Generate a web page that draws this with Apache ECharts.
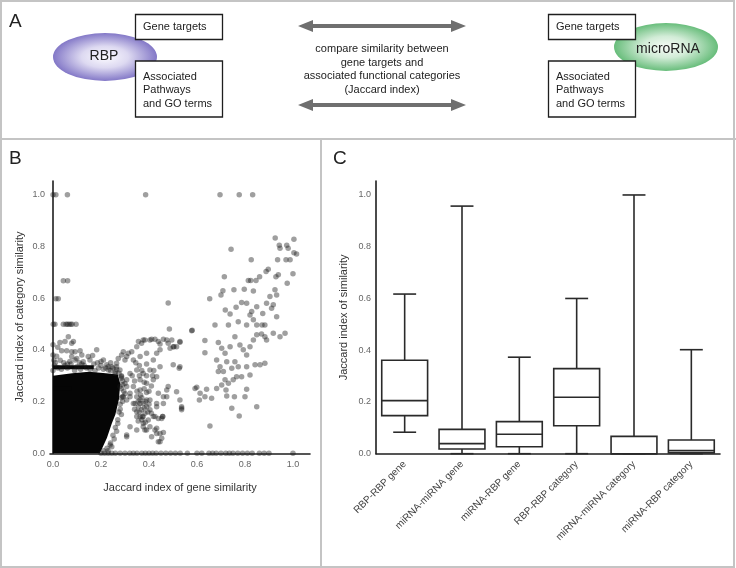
<!DOCTYPE html>
<html>
<head>
<meta charset="utf-8">
<script src="https://cdn.jsdelivr.net/npm/echarts@6/dist/echarts.min.js"></script>
<style>
  html, body { margin: 0; padding: 0; background: #fff; }
  #chart { width: 736px; height: 568px; }
</style>
</head>
<body>
<div id="chart"></div>
<script>
  // ---- panel B: [gene similarity, category similarity] ----
  var topRow = [[0.0, 1], [0.012, 1], [0.06, 1], [0.386, 1], [0.696, 1], [0.776, 1], [0.832, 1]];

  var nearAxisPoints = [
    [0.043, 0.667], [0.061, 0.667], [0.012, 0.598], [0.022, 0.598],
    [0.001, 0.499], [0.008, 0.499], [0.043, 0.499], [0.054, 0.499], [0.06, 0.499],
    [0.067, 0.499], [0.074, 0.499], [0.08, 0.499], [0.096, 0.499],
    [0.064, 0.451], [0.05, 0.432], [0.078, 0.426], [0.029, 0.428], [0.085, 0.432],
    [0.036, 0.397], [0.057, 0.397], [0.078, 0.393], [0.092, 0.393], [0.113, 0.397],
    [0.078, 0.374], [0.099, 0.367], [0.12, 0.38], [0.092, 0.361], [0.126, 0.354],
    [0.147, 0.374], [0.165, 0.378], [0.182, 0.4], [0.154, 0.361],
    [0.0, 0.42], [0.0, 0.38], [0.004, 0.36], [0.02, 0.41], [0.045, 0.35], [0.06, 0.345],
    [0.03, 0.36], [0.015, 0.375], [0.11, 0.35], [0.07, 0.355]
  ];

  // fuzzy rim of the dense blob
  var blobRim = [
    [0.02, 0.33], [0.05, 0.34], [0.1, 0.335], [0.13, 0.34], [0.19, 0.33], [0.21, 0.325],
    [0.24, 0.32], [0.26, 0.315], [0.285, 0.3], [0.29, 0.28], [0.285, 0.25], [0.29, 0.22],
    [0.28, 0.19], [0.275, 0.16], [0.27, 0.13], [0.26, 0.1], [0.25, 0.07], [0.24, 0.04],
    [0.225, 0.02], [0.21, 0.01], [0.0, 0.32], [0.006, 0.34], [0.17, 0.345], [0.23, 0.335],
    [0.01, 0.35], [0.035, 0.325], [0.06, 0.33], [0.075, 0.345], [0.09, 0.32], [0.115, 0.325],
    [0.14, 0.33], [0.155, 0.325], [0.175, 0.32], [0.2, 0.34], [0.22, 0.33], [0.25, 0.33],
    [0.265, 0.325], [0.275, 0.31], [0.2, 0.355], [0.185, 0.35], [0.12, 0.345], [0.24, 0.35],
    [0.285, 0.29], [0.29, 0.265], [0.295, 0.24], [0.285, 0.215], [0.29, 0.2], [0.28, 0.17],
    [0.285, 0.15], [0.27, 0.115], [0.265, 0.085], [0.255, 0.055], [0.245, 0.025], [0.23, 0.01],
    [0.3, 0.27], [0.3, 0.23]
  ];

  var middlePoints = [
    [0.21, 0.361], [0.224, 0.342], [0.231, 0.322], [0.245, 0.335], [0.265, 0.348], [0.272, 0.367],
    [0.286, 0.38], [0.3, 0.361], [0.258, 0.309], [0.279, 0.322], [0.314, 0.387], [0.328, 0.393],
    [0.349, 0.412], [0.356, 0.432], [0.369, 0.426], [0.383, 0.438], [0.404, 0.438], [0.425, 0.441],
    [0.439, 0.432], [0.46, 0.441], [0.48, 0.426], [0.495, 0.438], [0.515, 0.412],
    [0.376, 0.438], [0.411, 0.441], [0.446, 0.423], [0.474, 0.438], [0.504, 0.412], [0.529, 0.432],
    [0.488, 0.406], [0.501, 0.342], [0.529, 0.335],
    [0.432, 0.387], [0.446, 0.4], [0.418, 0.361], [0.39, 0.387], [0.363, 0.374], [0.335, 0.361],
    [0.307, 0.374], [0.293, 0.393], [0.265, 0.335],
    [0.321, 0.309], [0.349, 0.322], [0.376, 0.309], [0.404, 0.322], [0.432, 0.296], [0.446, 0.335],
    [0.418, 0.284], [0.39, 0.271], [0.363, 0.284], [0.335, 0.258], [0.307, 0.284], [0.286, 0.296],
    [0.279, 0.258],
    [0.349, 0.219], [0.363, 0.206], [0.376, 0.193], [0.356, 0.18], [0.369, 0.168], [0.383, 0.155],
    [0.363, 0.142], [0.349, 0.161], [0.39, 0.18], [0.404, 0.206], [0.335, 0.193], [0.321, 0.232],
    [0.307, 0.206], [0.293, 0.219], [0.397, 0.129], [0.376, 0.116], [0.418, 0.142], [0.432, 0.18],
    [0.439, 0.232], [0.46, 0.193], [0.474, 0.219], [0.48, 0.258],
    [0.307, 0.071], [0.411, 0.064], [0.432, 0.077], [0.46, 0.08], [0.349, 0.09], [0.39, 0.09],
    [0.376, 0.103],
    [0.307, 0.258], [0.321, 0.219], [0.342, 0.193], [0.363, 0.245], [0.39, 0.206], [0.404, 0.168],
    [0.425, 0.142], [0.376, 0.142], [0.404, 0.103], [0.425, 0.09], [0.446, 0.077], [0.453, 0.058],
    [0.439, 0.045], [0.383, 0.09], [0.321, 0.103], [0.307, 0.064], [0.349, 0.142], [0.363, 0.193],
    [0.432, 0.193], [0.46, 0.219], [0.474, 0.245], [0.453, 0.135], [0.238, 0.032],
    [0.48, 0.581], [0.653, 0.598], [0.578, 0.474], [0.485, 0.481], [0.592, 0.251], [0.613, 0.232],
    [0.633, 0.219], [0.536, 0.174],
    [0.526, 0.329], [0.529, 0.429], [0.501, 0.412], [0.536, 0.18], [0.529, 0.206], [0.515, 0.238],
    [0.457, 0.142], [0.439, 0.135], [0.432, 0.097], [0.446, 0.045],
    [0.355, 0.2], [0.37, 0.215], [0.38, 0.175], [0.36, 0.16], [0.372, 0.14], [0.385, 0.2],
    [0.395, 0.16], [0.34, 0.17], [0.35, 0.24], [0.365, 0.225], [0.38, 0.25], [0.39, 0.235],
    [0.4, 0.19], [0.41, 0.155], [0.37, 0.13], [0.385, 0.12], [0.355, 0.125], [0.4, 0.24],
    [0.41, 0.26], [0.38, 0.275], [0.36, 0.3], [0.39, 0.3], [0.415, 0.3], [0.34, 0.28],
    [0.33, 0.3], [0.37, 0.32], [0.36, 0.34], [0.39, 0.345], [0.42, 0.32], [0.345, 0.35]
  ];

  var rightPoints = [
    [0.926, 0.833], [1.004, 0.828], [0.943, 0.805], [0.974, 0.805], [0.98, 0.793], [0.946, 0.793],
    [1.015, 0.771], [1.004, 0.776], [0.971, 0.748], [0.988, 0.748], [0.742, 0.789], [0.826, 0.748],
    [0.936, 0.748], [1.0, 0.694], [0.976, 0.658], [0.929, 0.683], [0.939, 0.69], [0.897, 0.712],
    [0.888, 0.703], [0.714, 0.683], [0.814, 0.668], [0.824, 0.668], [0.846, 0.668], [0.861, 0.683],
    [0.708, 0.629], [0.7, 0.612], [0.754, 0.632], [0.797, 0.634], [0.835, 0.628], [0.925, 0.632],
    [0.932, 0.612], [0.904, 0.606],
    [0.718, 0.554], [0.738, 0.539], [0.763, 0.565], [0.786, 0.583], [0.807, 0.58], [0.828, 0.548],
    [0.849, 0.567], [0.874, 0.541], [0.89, 0.58], [0.911, 0.561], [0.918, 0.574], [0.932, 0.528],
    [0.675, 0.496], [0.731, 0.496], [0.772, 0.509], [0.807, 0.496], [0.821, 0.535], [0.835, 0.516],
    [0.849, 0.496], [0.871, 0.496], [0.883, 0.496], [0.89, 0.438], [0.918, 0.464], [0.946, 0.451],
    [0.967, 0.464], [0.58, 0.476],
    [0.633, 0.436], [0.633, 0.389], [0.689, 0.428], [0.703, 0.406], [0.717, 0.387], [0.738, 0.412],
    [0.758, 0.451], [0.779, 0.419], [0.793, 0.4], [0.807, 0.38], [0.821, 0.412], [0.835, 0.438],
    [0.849, 0.458], [0.869, 0.461], [0.883, 0.451],
    [0.682, 0.361], [0.696, 0.335], [0.71, 0.316], [0.724, 0.354], [0.745, 0.329], [0.758, 0.354],
    [0.772, 0.335], [0.786, 0.296], [0.807, 0.335], [0.821, 0.303], [0.842, 0.342], [0.863, 0.342],
    [0.883, 0.348],
    [0.717, 0.284], [0.731, 0.271], [0.751, 0.284], [0.689, 0.316], [0.765, 0.296], [0.703, 0.264],
    [0.721, 0.245],
    [0.682, 0.251], [0.661, 0.213], [0.64, 0.248], [0.599, 0.255], [0.61, 0.206], [0.724, 0.222],
    [0.756, 0.219], [0.8, 0.219], [0.807, 0.248], [0.849, 0.18], [0.745, 0.174], [0.776, 0.144],
    [0.654, 0.106], [0.536, 0.168], [0.457, 0.142]
  ];

  var zeroRow = [
    [0.2, 0], [0.215, 0], [0.23, 0], [0.245, 0], [0.26, 0], [0.28, 0], [0.3, 0], [0.32, 0],
    [0.335, 0], [0.35, 0], [0.37, 0], [0.385, 0], [0.4, 0], [0.415, 0], [0.43, 0], [0.45, 0],
    [0.47, 0], [0.49, 0], [0.51, 0], [0.53, 0], [0.56, 0], [0.6, 0], [0.62, 0], [0.65, 0],
    [0.665, 0], [0.68, 0], [0.7, 0], [0.72, 0], [0.735, 0], [0.75, 0], [0.77, 0], [0.79, 0],
    [0.81, 0], [0.83, 0], [0.86, 0], [0.88, 0], [0.9, 0], [1.0, 0]
  ];

  // outline of the saturated black region near the origin
  var blobOutline = [
    [0, 0], [0, 0.3], [0.08, 0.31], [0.15, 0.315], [0.22, 0.31], [0.27, 0.305], [0.28, 0.27],
    [0.275, 0.21], [0.26, 0.15], [0.245, 0.115], [0.225, 0.06], [0.205, 0.02], [0.195, 0]
  ];
  // stacked points forming two horizontal bars
  var barAt033 = [[0, 0.333], [0.17, 0.333]];
  var barAt025 = [[0, 0.25], [0.078, 0.25]];

  var tickValues = [0, 0.2, 0.4, 0.6, 0.8, 1.0];

  // ---- panel C: box plot summary ----
  var boxLabels = ['RBP-RBP gene', 'miRNA-miRNA gene', 'miRNA-RBP gene',
    'RBP-RBP category', 'miRNA-miRNA category', 'miRNA-RBP category'];
  var whiskerLow = [0.083, 0, 0, 0, 0, 0];
  var quartile1 = [0.147, 0.018, 0.027, 0.108, 0, 0.003];
  var medians = [0.205, 0.039, 0.075, 0.218, 0, 0.012];
  var quartile3 = [0.361, 0.094, 0.124, 0.329, 0.067, 0.053];
  var whiskerHigh = [0.617, 0.957, 0.373, 0.600, 1.0, 0.402];

  var boxData = boxLabels.map(function(c, i) {
    return [i, whiskerLow[i], quartile1[i], medians[i], quartile3[i], whiskerHigh[i]];
  });

  var font = 'Liberation Sans, Arial, sans-serif';
  var frame = '#c4c4c4';
  var ink = '#2a2a2a';
  var dotColor = 'rgba(25,25,25,0.52)';

  function renderBox(params, api) {
    var i = api.value(0);
    var half = api.size([1, 0])[0] * 0.4;
    var cap = half / 2;
    var low = api.coord([i, api.value(1)]);
    var q1 = api.coord([i, api.value(2)]);
    var med = api.coord([i, api.value(3)]);
    var q3 = api.coord([i, api.value(4)]);
    var high = api.coord([i, api.value(5)]);
    var cx = q1[0];
    var st = { stroke: ink, lineWidth: 1.6, fill: null };
    return {
      type: 'group',
      children: [
        { type: 'line', shape: { x1: cx, y1: high[1], x2: cx, y2: q3[1] }, style: st },
        { type: 'line', shape: { x1: cx - cap, y1: high[1], x2: cx + cap, y2: high[1] }, style: st },
        { type: 'line', shape: { x1: cx, y1: q1[1], x2: cx, y2: low[1] }, style: st },
        { type: 'line', shape: { x1: cx - cap, y1: low[1], x2: cx + cap, y2: low[1] }, style: st },
        { type: 'rect', shape: { x: cx - half, y: q3[1], width: half * 2, height: q1[1] - q3[1] },
          style: { stroke: ink, lineWidth: 1.6, fill: '#fff' } },
        { type: 'line', shape: { x1: cx - half, y1: med[1], x2: cx + half, y2: med[1] }, style: st }
      ]
    };
  }

  function renderBlob(params, api) {
    return {
      type: 'polygon',
      shape: { points: blobOutline.map(function(p) { return api.coord(p); }) },
      style: { fill: '#050505' }
    };
  }

  function arrow(y) {
    return {
      type: 'polygon', z: 10,
      shape: { points: [[298, y], [313, y - 6], [313, y - 2], [451, y - 2], [451, y - 6], [466, y],
        [451, y + 6], [451, y + 2], [313, y + 2], [313, y + 6]] },
      style: { fill: '#6f6f6f' }
    };
  }

  function blob(cx, cy, inner, mid, outer) {
    return {
      type: 'circle', x: cx, y: cy, scaleY: 0.46, z: 10,
      shape: { cx: 0, cy: 0, r: 52 },
      style: { fill: new echarts.graphic.RadialGradient(0.5, 0.5, 0.5, [
        { offset: 0, color: inner }, { offset: 0.45, color: mid }, { offset: 1, color: outer }]) }
    };
  }

  function box(x, y, w, h) {
    return { type: 'rect', z: 11, shape: { x: x, y: y, width: w, height: h },
      style: { fill: '#fff', stroke: '#1e1e1e', lineWidth: 1.3 } };
  }

  function label(x, y, text, size, align) {
    return { type: 'text', x: x, y: y, z: 12,
      style: { text: text, font: size + 'px ' + font, fill: '#222',
        align: align || 'left', verticalAlign: 'middle' } };
  }

  var chart = echarts.init(document.getElementById('chart'));
  chart.setOption({
    animation: false,
    backgroundColor: '#fff',
    textStyle: { fontFamily: font },
    graphic: [
      { type: 'rect', shape: { x: 1, y: 1, width: 733, height: 566 }, style: { fill: null, stroke: frame, lineWidth: 2 } },
      { type: 'line', shape: { x1: 0, y1: 139, x2: 736, y2: 139 }, style: { stroke: frame, lineWidth: 2 } },
      { type: 'line', shape: { x1: 321, y1: 139, x2: 321, y2: 568 }, style: { stroke: frame, lineWidth: 2 } },
      label(9, 22, 'A', 19), label(9, 159, 'B', 19), label(333, 159, 'C', 19),
      blob(105, 57, '#fcfbff', '#ddd9f1', '#8378c7'),
      blob(666, 47, '#f7fbf7', '#d2ecd7', '#68bd7b'),
      box(135.5, 14.5, 87, 25), box(135.5, 61, 87, 56),
      box(548.5, 14.5, 87, 25), box(548.5, 61, 87, 56),
      label(104, 56, 'RBP', 14, 'center'), label(668, 49, 'microRNA', 14, 'center'),
      label(143, 27, 'Gene targets', 11), label(556, 27, 'Gene targets', 11),
      label(143, 76.5, 'Associated', 11), label(143, 90, 'Pathways', 11), label(143, 103.5, 'and GO terms', 11),
      label(556, 76.5, 'Associated', 11), label(556, 90, 'Pathways', 11), label(556, 103.5, 'and GO terms', 11),
      arrow(26), arrow(105),
      label(382, 49, 'compare similarity between', 11, 'center'),
      label(382, 62.5, 'gene targets and', 11, 'center'),
      label(382, 76, 'associated functional categories', 11, 'center'),
      label(382, 89.5, '(Jaccard index)', 11, 'center')
    ],
    grid: [
      { left: 50, top: 181, width: 260, height: 272.3 },
      { left: 376, top: 181, width: 344, height: 272.7 }
    ],
    xAxis: [{
      gridIndex: 0, type: 'value', min: -0.0125, max: 1.071,
      name: 'Jaccard index of gene similarity', nameLocation: 'middle', nameGap: 29,
      nameTextStyle: { fontSize: 11, color: '#333' },
      axisLine: { lineStyle: { color: '#1e1e1e', width: 1.6 } },
      axisTick: { show: false }, splitLine: { show: false },
      axisLabel: { customValues: tickValues, fontSize: 9, color: '#666', margin: 7,
        formatter: function(v) { return v.toFixed(1); } }
    }, {
      gridIndex: 1, type: 'category', data: boxLabels,
      axisLine: { lineStyle: { color: '#1e1e1e', width: 1.6 } },
      axisTick: { show: false },
      axisLabel: { rotate: 45, fontSize: 10, color: '#444', margin: 9, interval: 0 }
    }],
    yAxis: [{
      gridIndex: 0, type: 'value', min: 0, max: 1.053,
      name: 'Jaccard index of category similarity', nameLocation: 'middle', nameGap: 25,
      nameTextStyle: { fontSize: 11, color: '#333' },
      axisLine: { show: true, lineStyle: { color: '#1e1e1e', width: 1.6 } },
      axisTick: { show: false }, splitLine: { show: false },
      axisLabel: { customValues: tickValues, fontSize: 9, color: '#666', margin: 5,
        formatter: function(v) { return v.toFixed(1); } }
    }, {
      gridIndex: 1, type: 'value', min: 0, max: 1.054,
      name: 'Jaccard index of similarity', nameLocation: 'middle', nameGap: 27,
      nameTextStyle: { fontSize: 11, color: '#333' },
      axisLine: { show: true, lineStyle: { color: '#1e1e1e', width: 1.6 } },
      axisTick: { show: false }, splitLine: { show: false },
      axisLabel: { customValues: tickValues, fontSize: 9, color: '#666', margin: 5,
        formatter: function(v) { return v.toFixed(1); } }
    }],
    series: [
      { type: 'custom', xAxisIndex: 0, yAxisIndex: 0, data: [[0, 0]], renderItem: renderBlob, silent: true, z: 1 },
      { type: 'line', xAxisIndex: 0, yAxisIndex: 0, data: barAt033, symbol: 'none', silent: true,
        lineStyle: { color: '#050505', width: 4 }, z: 2 },
      { type: 'line', xAxisIndex: 0, yAxisIndex: 0, data: barAt025, symbol: 'none', silent: true,
        lineStyle: { color: '#050505', width: 4 }, z: 2 },
      { type: 'scatter', xAxisIndex: 0, yAxisIndex: 0, symbolSize: 5.5, silent: true, z: 3,
        itemStyle: { color: dotColor },
        data: [].concat(topRow, nearAxisPoints, blobRim, middlePoints, rightPoints, zeroRow) },
      { type: 'custom', xAxisIndex: 1, yAxisIndex: 1, data: boxData, renderItem: renderBox,
        encode: { x: 0, y: [1, 2, 3, 4, 5] }, silent: true, z: 3 }
    ]
  });
</script>
</body>
</html>
